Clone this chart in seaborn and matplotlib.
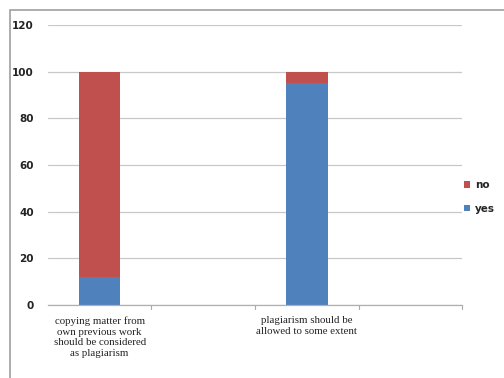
import matplotlib
matplotlib.use("Agg")
import matplotlib.pyplot as plt
import seaborn as sns
import pandas as pd
from matplotlib.patches import Rectangle

categories = ["copying matter from\nown previous work\nshould be considered\nas plagiarism",
              "plagiarism should be\nallowed to some extent"]
slot_order = [categories[0], "gap1", categories[1], "gap2"]
slot_labels = [categories[0], "", categories[1], ""]
yes_values = [12, 95]
no_values = [88, 5]
y_ticks = [0, 20, 40, 60, 80, 100, 120]

red = "#c0504d"
blue = "#4f81bd"

sns.set_theme(style="white")
plt.rcParams['font.family'] = ['DejaVu Sans']

fig = plt.figure(figsize=(5.04, 3.78), dpi=100)
ax = fig.add_axes([0.095, 0.193, 0.822, 0.741])

df = pd.DataFrame({"cat": categories,
                   "yes": yes_values,
                   "total": [y + n for y, n in zip(yes_values, no_values)]})

sns.barplot(data=df, x="cat", y="total", order=slot_order, color=red,
            saturation=1, width=0.4, ax=ax, label="no", linewidth=0,
            edgecolor="none")
sns.barplot(data=df, x="cat", y="yes", order=slot_order, color=blue,
            saturation=1, width=0.4, ax=ax, label="yes", linewidth=0,
            edgecolor="none")

ax.set_xlim(-0.5, 3.5)
ax.set_ylim(0, 120)
ax.set_yticks(y_ticks)
ax.set_yticklabels([str(t) for t in y_ticks], fontsize=7.5, color="#222222",
                   fontweight="bold")
ax.yaxis.grid(True, color="#c8c8c8", linewidth=0.9)
ax.set_axisbelow(True)
ax.set_xlabel("")
ax.set_ylabel("")
ax.set_xticks([0, 1, 2, 3])
ax.set_xticklabels(slot_labels, fontsize=7.8, family="Liberation Serif",
                   linespacing=1.25, color="#222222")
ax.tick_params(axis="x", length=0, pad=8)
ax.tick_params(axis="y", length=0, pad=10)
for b in [0.5, 1.5, 2.5, 3.5]:
    ax.plot([b, b], [0, -1.5], color="#aaaaaa", lw=0.8, clip_on=False)
for s in ["top", "right", "left"]:
    ax.spines[s].set_visible(False)
ax.spines["bottom"].set_color("#b0b0b0")
ax.spines["bottom"].set_linewidth(0.9)

handles, labels = ax.get_legend_handles_labels()
leg = ax.legend(handles=handles, labels=labels, loc="center left",
                bbox_to_anchor=(1.005, 0.386), frameon=False,
                handlelength=0.55, handleheight=0.55, handletextpad=0.45,
                labelspacing=1.3, borderaxespad=0, borderpad=0,
                prop={"weight": "bold", "size": 7.5})

fig.patches.append(Rectangle((10 / 504, -0.1), 1.2, 1 - 10 / 378 + 0.1,
                             transform=fig.transFigure, fill=False,
                             edgecolor="#a0a0a0", linewidth=1.2))

fig.savefig("out.png", dpi=100)
